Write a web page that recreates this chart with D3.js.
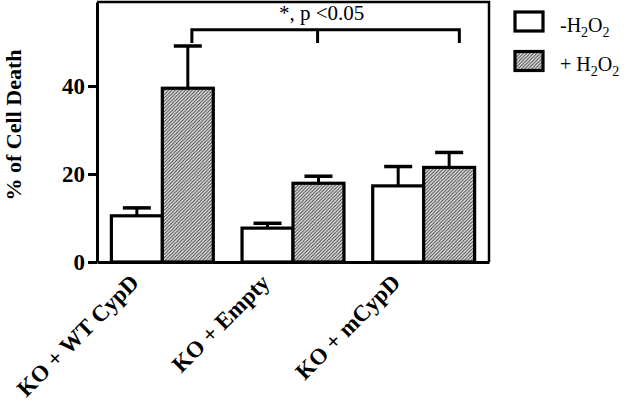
<!DOCTYPE html>
<html>
<head>
<meta charset="utf-8">
<script src="https://cdn.jsdelivr.net/npm/d3@7"></script>
<style>
  body { margin: 0; background: #fff; }
  svg { display: block; }
  text { font-family: "Liberation Serif", "Times New Roman", serif; }
</style>
</head>
<body>
<div id="chart"></div>
<script>
// data
var groups = ["KO + WT CypD", "KO + Empty", "KO + mCypD"];
var series = ["minus", "plus"];
var minusMean = [10.5, 7.7, 17.3];
var minusSem  = [1.8, 1.1, 4.4];
var plusMean  = [39.5, 17.9, 21.5];
var plusSem   = [9.6, 1.6, 3.4];
var yTicks = [0, 20, 40];
var sigLabel = "*, p <0.05";
var sigFrom = "KO + WT CypD", sigTo = "KO + mCypD";
var sigLevel = 52.8, sigDrop = 3;

var W = 633, H = 409;
var margin = {top: 2, right: 144, bottom: 147, left: 97},
    width = W - margin.left - margin.right,
    height = H - margin.top - margin.bottom;

var svg = d3.select("#chart").append("svg")
    .attr("width", W)
    .attr("height", H);

// hatch pattern for the +H2O2 bars
var defs = svg.append("defs");
var pat = defs.append("pattern")
    .attr("id", "hatch")
    .attr("patternUnits", "userSpaceOnUse")
    .attr("width", 3.4)
    .attr("height", 3.4);
pat.append("rect").attr("width", 3.4).attr("height", 3.4).attr("fill", "#e6e6e6");
pat.append("path")
    .attr("d", "M-1,1 l2,-2 M0,3.4 l3.4,-3.4 M2.4,4.4 l2,-2")
    .attr("stroke", "#3c3c3c")
    .attr("stroke-width", 1);

var g = svg.append("g")
    .attr("transform", "translate(" + margin.left + "," + margin.top + ")");

var x = d3.scaleBand().domain(groups).range([0, width])
    .paddingInner(0.22).paddingOuter(0.11);
var xs = d3.scaleBand().domain(series).range([0, x.bandwidth()]);
var y = d3.scaleLinear().domain([0, 59.1]).range([height, 0]);

var rows = [];
groups.forEach(function(grp, i) {
  rows.push({g: grp, s: "minus", v: minusMean[i], e: minusSem[i]});
  rows.push({g: grp, s: "plus", v: plusMean[i], e: plusSem[i]});
});

function cx(d) { return x(d.g) + xs(d.s) + xs.bandwidth() / 2; }

// error bars (upper only) behind the bars
var capW = 14;
var eb = g.selectAll(".err").data(rows).enter().append("g").attr("class", "err");
eb.append("line")
    .attr("x1", cx).attr("x2", cx)
    .attr("y1", function(d) { return y(d.v); })
    .attr("y2", function(d) { return y(d.v + d.e); })
    .attr("stroke", "#000").attr("stroke-width", 3);
eb.append("line")
    .attr("x1", function(d) { return cx(d) - capW; })
    .attr("x2", function(d) { return cx(d) + capW; })
    .attr("y1", function(d) { return y(d.v + d.e); })
    .attr("y2", function(d) { return y(d.v + d.e); })
    .attr("stroke", "#000").attr("stroke-width", 3.5);

// bars
g.selectAll(".bar").data(rows).enter().append("rect")
    .attr("class", "bar")
    .attr("x", function(d) { return x(d.g) + xs(d.s); })
    .attr("width", xs.bandwidth())
    .attr("y", function(d) { return y(d.v); })
    .attr("height", function(d) { return height - y(d.v); })
    .attr("fill", function(d) { return d.s == "plus" ? "url(#hatch)" : "#fff"; })
    .attr("stroke", "#000")
    .attr("stroke-width", 3.2);

// frame: top and right
g.append("path")
    .attr("d", "M0,0 H" + width + " V" + height)
    .attr("fill", "none").attr("stroke", "#000").attr("stroke-width", 2.5);

// y axis
var yAxis = g.append("g")
    .call(d3.axisLeft(y).tickValues(yTicks).tickSize(9).tickSizeOuter(0).tickPadding(3));
yAxis.select(".domain").attr("stroke-width", 3);
yAxis.selectAll(".tick line").attr("stroke-width", 3);
yAxis.selectAll(".tick text")
    .style("font-family", "'Liberation Serif', serif")
    .style("font-size", "23px").style("font-weight", "bold").attr("fill", "#000");

// x axis
var xAxis = g.append("g")
    .attr("transform", "translate(0," + height + ")")
    .call(d3.axisBottom(x).tickSize(0).tickSizeOuter(0));
xAxis.select(".domain").attr("stroke-width", 3);
xAxis.selectAll(".tick text")
    .attr("x", 0).attr("y", 0).attr("dy", 0)
    .attr("text-anchor", "end")
    .attr("transform", "translate(-22,22) rotate(-45)")
    .style("font-family", "'Liberation Serif', serif")
    .style("font-size", "23px").style("font-weight", "bold").attr("fill", "#000");

// y title
g.append("text")
    .attr("transform", "rotate(-90)")
    .attr("x", -(height / 2) + 7)
    .attr("y", 21 - margin.left)
    .attr("text-anchor", "middle")
    .style("font-size", "22px").style("font-weight", "bold")
    .text("% of Cell Death");

// significance bracket
var bx1 = x(sigFrom) + xs("plus") + xs.bandwidth() * 0.58;
var bx2 = x(sigTo) + xs("plus") + xs.bandwidth() * 0.7;
var bmid = bx1 + (bx2 - bx1) * 0.47;
g.append("path")
    .attr("d", "M" + bx1 + "," + y(sigLevel - sigDrop) + " V" + y(sigLevel) +
               " H" + bx2 + " V" + y(sigLevel - sigDrop) +
               " M" + bmid + "," + y(sigLevel) + " V" + y(sigLevel - sigDrop))
    .attr("fill", "none").attr("stroke", "#000").attr("stroke-width", 3);
g.append("text")
    .attr("x", bmid + 4)
    .attr("y", y(sigLevel) - 10)
    .attr("text-anchor", "middle")
    .style("font-size", "21px")
    .text(sigLabel);

// legend
var legend = svg.append("g").attr("transform", "translate(515,12)");
var legItems = [{s: "minus", pre: "-H"}, {s: "plus", pre: "+ H"}];
legItems.forEach(function(it, i) {
  var row = legend.append("g").attr("transform", "translate(0," + (i * 39.5) + ")");
  row.append("rect")
      .attr("width", 28).attr("height", 19)
      .attr("fill", it.s == "plus" ? "url(#hatch)" : "#fff")
      .attr("stroke", "#000").attr("stroke-width", 3.2);
  var t = row.append("text").attr("x", 45).attr("y", 19.5).style("font-size", "20px");
  t.append("tspan").text(it.pre);
  t.append("tspan").attr("dy", 5).style("font-size", "14px").text("2");
  t.append("tspan").attr("dy", -5).text("O");
  t.append("tspan").attr("dy", 5).style("font-size", "14px").text("2");
});
</script>
</body>
</html>
